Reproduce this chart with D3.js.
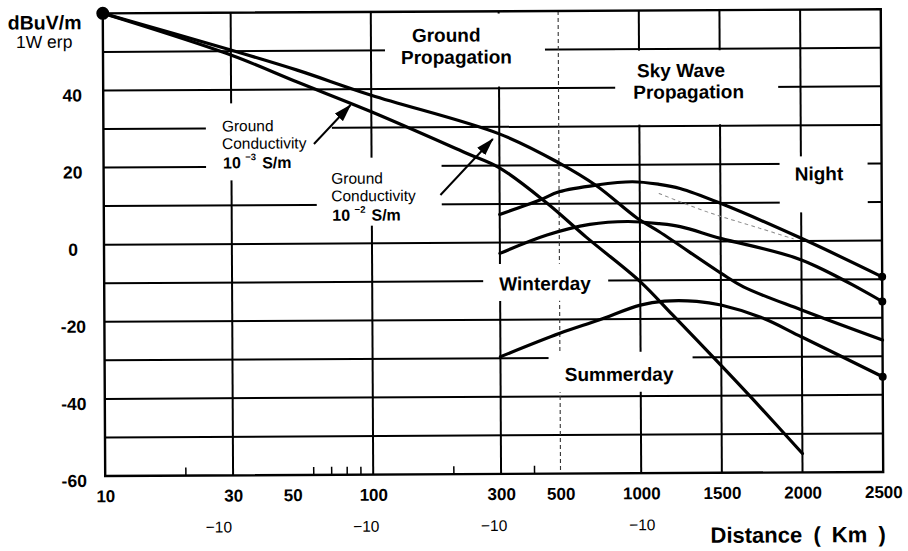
<!DOCTYPE html>
<html>
<head>
<meta charset="utf-8">
<script src="https://cdn.jsdelivr.net/npm/d3@7"></script>
<style>
  body { margin: 0; background: #fff; }
  svg { display: block; }
  text { font-family: "Liberation Sans", Arial, Helvetica, sans-serif; fill: #000; }
</style>
</head>
<body>
<svg id="chart" width="908" height="551"></svg>
<script>
// Field strength (dBuV/m for 1 W erp) against distance (km)
const groundHigh = [[10,60],[30,50.3],[53,45.0],[100,38.4],[300,28.2],[500,20.6],[690,14.6],[975,6.2],[1120,2.6],[1500,-8.2],[1640,-11.8],[2000,-17.9],[2500,-25.8]]; // 10^-2 S/m
const groundLow  = [[10,60],[30,49.0],[53,41.9],[100,34.1],[225,23.3],[300,19.4],[450,10.2],[630,1.3],[1000,-10.3],[1200,-19.0],[1500,-32.2],[1700,-41.2],[2000,-55.1]]; // 10^-3 S/m
const night      = [[300,7.3],[424,11.0],[500,13.1],[690,14.8],[940,15.6],[1120,14.9],[1250,13.8],[1500,9.9],[2000,0.7],[2500,-9.4]];
const winterday  = [[300,-2.8],[450,1.9],[650,4.6],[900,5.3],[1120,4.7],[1250,3.9],[1500,0.8],[2000,-4.9],[2500,-15.8]];
const summerday  = [[300,-29.6],[500,-23.6],[700,-20.2],[1000,-16.4],[1150,-15.4],[1350,-15.5],[1500,-16.5],[1750,-19.8],[2000,-24.9],[2500,-35.3]];
const nightFaint = [[1120,12.5],[1430,7.5],[1740,3.4],[1950,0.6]];

const xTickValues  = [10,30,50,100,300,500,1000,1500,2000,2500];
const xGridValues  = [30,100,300,1000,1500,2000];
const xDashedValues = [500];
const xMinorTicks  = [20,60,70,80,90,200,400];
const yTickValues  = [40,20,0,-20,-40,-60];
const yGridValues  = [50,40,30,20,10,0,-10,-20,-30,-40,-50];
const decadeMarks  = [[26.5,"\u221210"],[94,"\u221210"],[282,"\u221210"],[1005,"\u221210"]];

const svg = d3.select("#chart");
const root = svg.append("g").attr("transform", "rotate(-0.3 490 245)");

// distance axis: logarithmic up to 1000 km, linear beyond
const xLog = d3.scaleLog().domain([10, 1000]).range([104, 640]);
const xLin = d3.scaleLinear().domain([1000, 2500]).range([640, 882]);
function x(km) { return km <= 1000 ? xLog(km) : xLin(km); }
x.domain = () => [10, 2500];
x.range = () => [104, 882];
x.copy = () => x;

const y = d3.scaleLinear().domain([-60, 60]).range([474, 11.3]);
const [L, R] = x.range();
const [B, T] = y.range();

// grid
const grid = root.append("g").attr("stroke", "#000").attr("fill", "none");
grid.selectAll("line.h").data(yGridValues).join("line")
  .attr("class", "h").attr("x1", L).attr("x2", R)
  .attr("y1", d => y(d)).attr("y2", d => y(d)).attr("stroke-width", 2);
grid.selectAll("line.v").data(xGridValues).join("line")
  .attr("class", "v").attr("y1", T).attr("y2", B)
  .attr("x1", d => x(d)).attr("x2", d => x(d)).attr("stroke-width", 2);
grid.selectAll("line.d").data(xDashedValues).join("line")
  .attr("class", "d").attr("y1", T).attr("y2", B)
  .attr("x1", d => x(d)).attr("x2", d => x(d))
  .attr("stroke-width", 1.1).attr("stroke-dasharray", "4,3").attr("stroke", "#333");

// clear panels behind the annotations
const panels = [
  [386, 13.5, 546, 86.5],   // Ground Propagation
  [616, 51.5, 779, 125.5],  // Sky Wave Propagation
  [780, 158, 868, 214],     // Night
  [483, 264, 608, 301],     // Winterday
  [548, 352.5, 692, 392.5], // Summerday
  [206.5, 102, 332.5, 179], // conductivity 10^-3
  [317, 157, 442, 225]      // conductivity 10^-2
];
root.append("g").selectAll("rect").data(panels).join("rect")
  .attr("x", d => d[0]).attr("y", d => d[1])
  .attr("width", d => d[2] - d[0]).attr("height", d => d[3] - d[1])
  .attr("fill", "#fff");

// frame
root.append("rect").attr("x", L).attr("y", T).attr("width", R - L).attr("height", B - T)
  .attr("fill", "none").attr("stroke", "#000").attr("stroke-width", 2.4);

// minor ticks on the distance axis
root.append("g").selectAll("line").data(xMinorTicks).join("line")
  .attr("x1", d => x(d)).attr("x2", d => x(d))
  .attr("y1", B).attr("y2", B - 8)
  .attr("stroke", "#000").attr("stroke-width", 1.5);

// curves
const line = d3.line().x(d => x(d[0])).y(d => y(d[1])).curve(d3.curveCatmullRom.alpha(0.5));
const curves = root.append("g").attr("fill", "none").attr("stroke", "#000")
  .attr("stroke-linecap", "round").attr("stroke-linejoin", "round");
[groundHigh, groundLow, night, winterday, summerday].forEach(s => {
  curves.append("path").attr("d", line(s)).attr("stroke-width", 3.2);
});
curves.append("path").attr("d", line(nightFaint))
  .attr("stroke", "#8a8a8a").attr("stroke-width", 1).attr("stroke-dasharray", "3,4");

// source point and end points
root.append("circle").attr("cx", x(groundHigh[0][0])).attr("cy", y(groundHigh[0][1])).attr("r", 6.5);
root.append("g").selectAll("circle").data([night, winterday, summerday].map(s => s[s.length - 1])).join("circle")
  .attr("cx", d => x(d[0])).attr("cy", d => y(d[1])).attr("r", 4);

// arrows pointing at the ground-wave curves
const defs = svg.append("defs");
defs.append("marker").attr("id", "head").attr("viewBox", "0 -6 18 12")
  .attr("refX", 17).attr("refY", 0).attr("markerUnits", "userSpaceOnUse")
  .attr("markerWidth", 18).attr("markerHeight", 12).attr("orient", "auto")
  .append("path").attr("d", "M0,-5.5L18,0L0,5.5Z").attr("fill", "#000");
const arrows = [[314.5, 143.1, 351.3, 104.3], [440.7, 194.7, 493.4, 139]];
root.append("g").selectAll("line").data(arrows).join("line")
  .attr("x1", d => d[0]).attr("y1", d => d[1]).attr("x2", d => d[2]).attr("y2", d => d[3])
  .attr("stroke", "#000").attr("stroke-width", 2).attr("marker-end", "url(#head)");

// axes
const xAxis = root.append("g").attr("transform", `translate(0,${B})`)
  .call(d3.axisBottom(x).tickValues(xTickValues).tickSize(0).tickPadding(14).tickFormat(d => String(d)));
xAxis.select(".domain").remove();
xAxis.selectAll("text").attr("font-size", 17).attr("font-weight", "bold")
  .style("font-family", "'Liberation Sans', Arial, sans-serif");

const yAxis = root.append("g").attr("transform", "translate(73,0)")
  .call(d3.axisLeft(y).tickValues(yTickValues).tickSize(0).tickPadding(0).tickFormat(d => String(d)));
yAxis.select(".domain").remove();
yAxis.selectAll("text").attr("x", 0).attr("dy", "0.59em").attr("text-anchor", "middle")
  .attr("font-size", 17.5).attr("font-weight", "bold")
  .style("font-family", "'Liberation Sans', Arial, sans-serif");

// text
const txt = (s, px, py, size, weight, anchor) => root.append("text")
  .attr("x", px).attr("y", py).attr("font-size", size)
  .attr("font-weight", weight || "normal").attr("text-anchor", anchor || "start").text(s);

txt("dBuV/m", 9, 27, 19.5, "bold");
txt("1W erp", 17, 45.5, 17.5, "normal");

txt("Ground", 413, 41.5, 19, "bold");
txt("Propagation", 402, 63.5, 19, "bold");
txt("Sky Wave", 638, 78, 19, "bold");
txt("Propagation", 634, 99.5, 19, "bold");
txt("Night", 795, 182, 19, "bold");
txt("Winterday", 499, 290.5, 19, "bold");
txt("Summerday", 564, 381.5, 19, "bold");

// conductivity labels
function condLabel(px, py, exp) {
  txt("Ground", px, py, 15.5, "normal");
  txt("Conductivity", px, py + 17.5, 15.5, "normal");
  const t = root.append("text").attr("x", px + 1).attr("y", py + 37)
    .attr("font-size", 16).attr("font-weight", "bold");
  t.append("tspan").text("10 ");
  t.append("tspan").attr("font-size", 9.5).attr("dy", -8).text("\u2212" + exp);
  t.append("tspan").attr("dy", 8).attr("dx", 6).text("S/m");
}
condLabel(222.5, 130, 3);
condLabel(331.5, 183, 2);

// decade marks under the axis
root.append("g").selectAll("text").data(decadeMarks).join("text")
  .attr("x", d => x(d[0])).attr("y", 531).attr("text-anchor", "middle")
  .attr("font-size", 15.5).attr("fill", "#222").text(d => d[1]);

const dist = txt("Distance ( Km )", 709, 544, 22, "bold");
dist.attr("word-spacing", 5).attr("xml:space", "preserve");
</script>
</body>
</html>
